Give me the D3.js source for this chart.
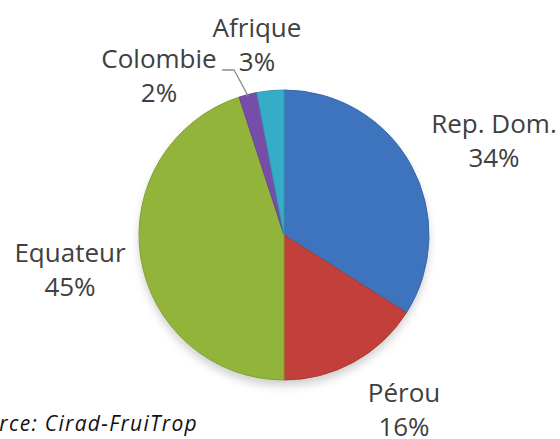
<!DOCTYPE html>
<html>
<head>
<meta charset="utf-8">
<script src="https://cdn.jsdelivr.net/npm/d3@7"></script>
<style>
  body { margin: 0; background: #fff; }
  svg { display: block; }
  .lbl { font-family: "Open Sans", sans-serif; font-size: 26px; fill: #404040; }
  .src { font-family: "Open Sans", sans-serif; font-size: 21px; font-style: italic; fill: #111; letter-spacing: 1.3px; }
</style>
</head>
<body>
<div id="chart"></div>
<script>
// données (part des importations)
const pays = ["Rep. Dom.", "Pérou", "Equateur", "Colombie", "Afrique"];
const parts = [34, 16, 45, 2, 3];
const couleurs = ["#4580d2", "#d8473f", "#a2c842", "#8456bd", "#3bc0dc"];

const width = 560, height = 439;
const cx = 284, cy = 235, r = 145;

const svg = d3.select("#chart").append("svg")
  .attr("width", width)
  .attr("height", height);

const defs = svg.append("defs");

// ombre sous le camembert
const blur = defs.append("filter").attr("id", "ombre")
  .attr("x", "-20%").attr("y", "-20%").attr("width", "140%").attr("height", "140%");
blur.append("feGaussianBlur").attr("stdDeviation", 4);

couleurs.forEach((c, i) => {
  const g = defs.append("radialGradient")
    .attr("id", "grad" + i)
    .attr("gradientUnits", "userSpaceOnUse")
    .attr("cx", cx).attr("cy", cy).attr("r", r);
  g.append("stop").attr("offset", "0%").attr("stop-color", c);
  g.append("stop").attr("offset", "90%").attr("stop-color", c);
  g.append("stop").attr("offset", "96%").attr("stop-color", d3.color(c).brighter(0.1));
  g.append("stop").attr("offset", "100%").attr("stop-color", d3.color(c).darker(0.3));
});

svg.append("ellipse")
  .attr("cx", cx).attr("cy", cy + 6)
  .attr("rx", r).attr("ry", r)
  .attr("fill", "#999")
  .attr("opacity", 0.45)
  .attr("filter", "url(#ombre)");

const pie = d3.pie().sort(null).value(d => d);
const arcs = pie(parts);
const arc = d3.arc().innerRadius(0).outerRadius(r);

const g = svg.append("g").attr("transform", `translate(${cx},${cy})`);

g.selectAll("path.part")
  .data(arcs)
  .enter().append("path")
  .attr("class", "part")
  .attr("d", arc)
  .attr("fill", (d, i) => `url(#grad${i})`)
  .attr("stroke", (d, i) => d3.color(couleurs[i]).darker(0.6))
  .attr("stroke-width", 1)
  .attr("stroke-linejoin", "round");

// étiquettes
const etiquettes = [
  { x: 494, y: 133 },
  { x: 404, y: 402 },
  { x: 70, y: 262 },
  { x: 159, y: 68 },
  { x: 257, y: 37 }
];
const interligne = 34;

etiquettes.forEach((p, i) => {
  const t = svg.append("text")
    .attr("class", "lbl")
    .attr("text-anchor", "middle")
    .attr("x", p.x).attr("y", p.y);
  t.append("tspan").attr("x", p.x).text(pays[i]);
  t.append("tspan").attr("x", p.x).attr("dy", interligne).text(parts[i] + "%");
});

// ligne de rappel pour Colombie
const a = arcs[3];
const mid = (a.startAngle + a.endAngle) / 2;
const px = cx + Math.sin(mid) * (r - 2);
const py = cy - Math.cos(mid) * (r - 2);
svg.append("polyline")
  .attr("points", `222,70 234,70 ${px},${py}`)
  .attr("fill", "none")
  .attr("stroke", "#8c8c8c")
  .attr("stroke-width", 1.3);

svg.append("text")
  .attr("class", "src")
  .attr("text-anchor", "end")
  .attr("x", 198).attr("y", 431)
  .text("Source: Cirad-FruiTrop");
</script>
</body>
</html>
